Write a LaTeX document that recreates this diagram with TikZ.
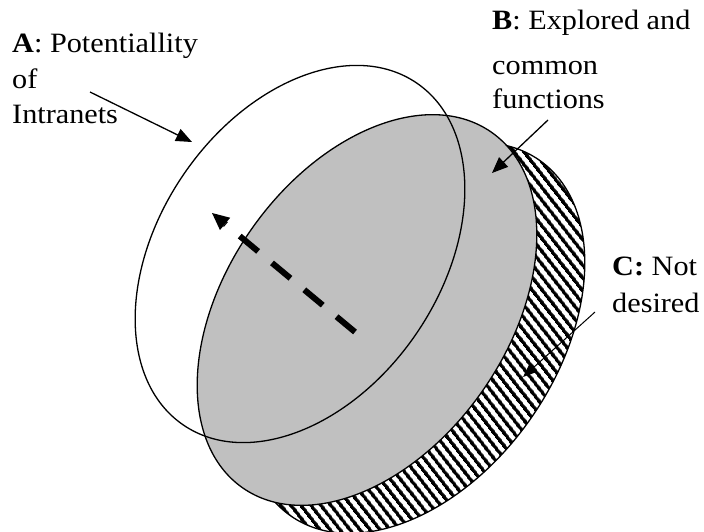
\documentclass[tikz,border=0pt]{standalone}
\usepackage{fontspec}
\setmainfont{Liberation Serif}[FakeStretch=1.08]
\usetikzlibrary{shapes.geometric,arrows.meta,patterns.meta}

% diagonal stripes for the "not desired" region
\tikzdeclarepattern{
  name=slantstripes,
  type=uncolored,
  bounding box={(0pt,0pt) and (7.5pt,7.5pt)},
  tile size={(7.5pt,7.5pt)},
  tile transformation={rotate=-52},
  code={\pgfpathrectangle{\pgfpointorigin}{\pgfpoint{7.5pt}{3.6pt}}\pgfusepath{fill}}
}

\definecolor{areagray}{RGB}{192,192,192}

\begin{document}
\begin{tikzpicture}[x=1pt,y=-1pt,
  region/.style={draw, line width=1.3pt, ellipse, inner sep=0pt, outer sep=0pt},
  lbl/.style={anchor=base west, inner sep=0pt, font=\fontsize{28}{34}\selectfont},
  pointer/.style={-{Triangle[length=16pt,width=13pt]}, line width=1.3pt},
  thinpointer/.style={-{Triangle[length=14pt,width=11pt]}, line width=1pt},
  direction/.style={-{Triangle[length=17pt,width=16pt,line width=0pt]}, line width=6pt,
                    dash pattern=on 24pt off 18pt}]
  \useasboundingbox (0,0) rectangle (704,531);
  \fill[white] (0,0) rectangle (704,531);
  \clip (0,0) rectangle (704,531);

  % C: hatched band behind B
  \node[region, pattern=slantstripes, pattern color=black,
        minimum width=434pt, minimum height=282pt, rotate=55] (C) at (415,338) {};
  % B: explored and common functions
  \node[region, fill=areagray,
        minimum width=434pt, minimum height=282pt, rotate=55] (B) at (367,310) {};
  % A: potentiality, outline only
  \node[region,
        minimum width=414pt, minimum height=282pt, rotate=55.7] (A) at (300,254) {};

  % growth direction
  \coordinate (dTail) at (355,332);
  \coordinate (dHead) at (212,213);
  \draw[direction] (dTail) -- (dHead);

  % labels
  \node[lbl] (tA1) at (12,52) {\textbf{A}: Potentiallity};
  \node[lbl] (tA2) at (12,88) {of};
  \node[lbl] (tA3) at (12,123) {Intranets};
  \node[lbl] (tB1) at (492,29) {\textbf{B}: Explored and};
  \node[lbl] (tB2) at (492,74) {common};
  \node[lbl] (tB3) at (492,108) {functions};
  \node[lbl] (tC1) at (612,275) {\textbf{C:} Not};
  \node[lbl] (tC2) at (612,312) {desired};

  % label pointers
  \coordinate (aTail) at (90,92);
  \coordinate (aHead) at (192,142);
  \coordinate (bTail) at (548,120);
  \coordinate (bHead) at (492,173);
  \coordinate (cTail) at (595,312);
  \coordinate (cHead) at (523,377);
  \draw[pointer] (aTail) -- (aHead);
  \draw[pointer] (bTail) -- (bHead);
  \draw[thinpointer] (cTail) -- (cHead);
\end{tikzpicture}
\end{document}
